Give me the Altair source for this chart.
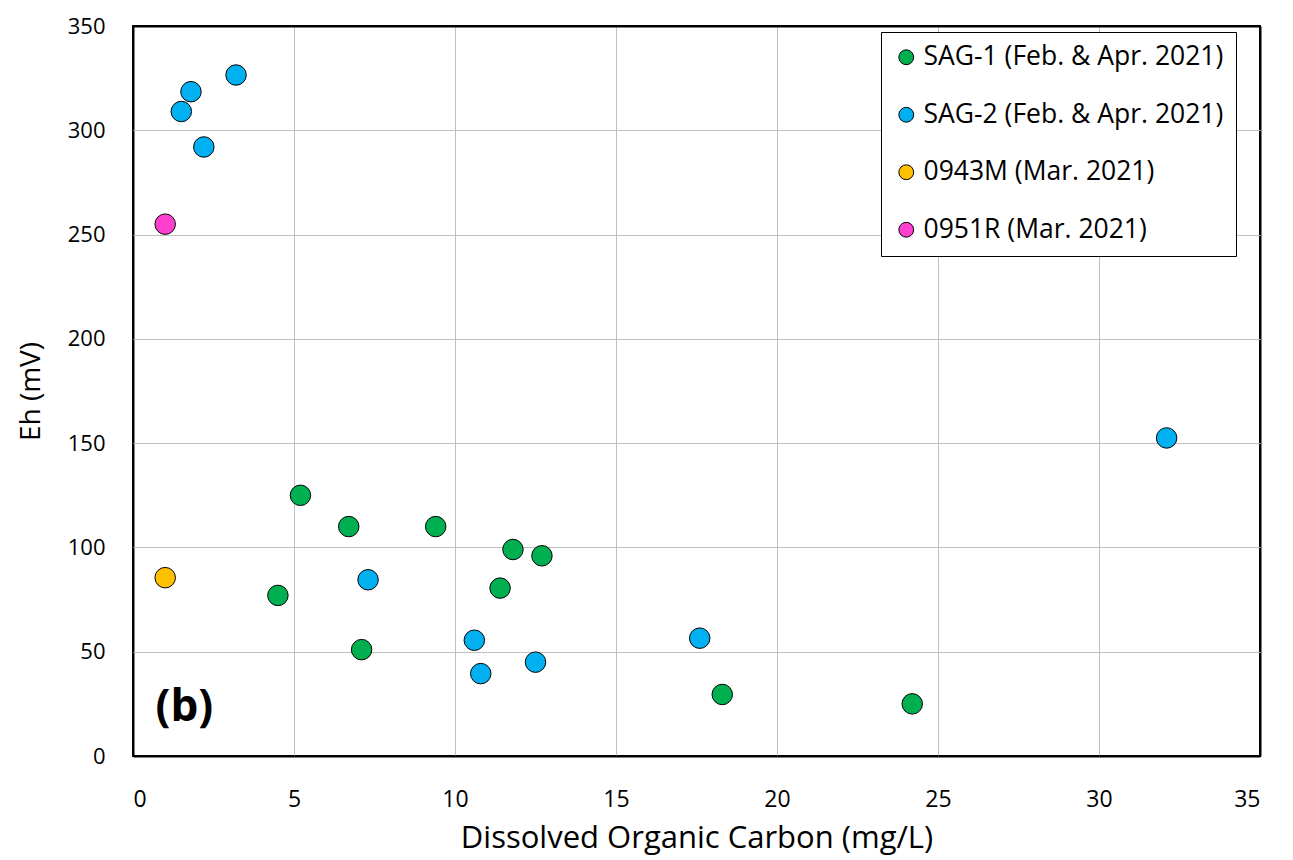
import altair as alt
import pandas as pd

series_names = ["SAG-1 (Feb. & Apr. 2021)", "SAG-2 (Feb. & Apr. 2021)",
                "0943M (Mar. 2021)", "0951R (Mar. 2021)"]
colors = ["#00B050", "#00B0F0", "#FFC000", "#FF3FCF"]

sag1_doc = [5.2, 6.7, 9.4, 4.5, 7.1, 11.8, 12.7, 11.4, 18.3, 24.2]
sag1_eh = [125, 110, 110, 77, 51, 99, 96, 80.5, 29.5, 25]

sag2_doc = [3.2, 1.8, 1.5, 2.2, 7.3, 10.6, 10.8, 12.5, 17.6, 32.1]
sag2_eh = [326.5, 318.5, 309, 292, 84.5, 55.5, 39.5, 45, 56.5, 152.5]

m0943_doc = [1.0]
m0943_eh = [85.5]

r0951_doc = [1.0]
r0951_eh = [255]

rows = []
for name, xs, ys in zip(series_names,
                        [sag1_doc, sag2_doc, m0943_doc, r0951_doc],
                        [sag1_eh, sag2_eh, m0943_eh, r0951_eh]):
    for xv, yv in zip(xs, ys):
        rows.append({"series": name, "doc": xv, "eh": yv})
df = pd.DataFrame(rows)

panel_label = pd.DataFrame({"doc": [0.7], "eh": [23], "label": ["(b)"]})

FONT = "Open Sans"

x_edge = {"condition": {"test": "datum.value == 0 || datum.value == 35",
                        "value": "black"}, "value": "#C0C0C0"}
x_edge_w = {"condition": {"test": "datum.value == 0 || datum.value == 35",
                          "value": 2}, "value": 1}
y_edge = {"condition": {"test": "datum.value == 0 || datum.value == 350",
                        "value": "black"}, "value": "#C0C0C0"}
y_edge_w = {"condition": {"test": "datum.value == 0 || datum.value == 350",
                          "value": 2}, "value": 1}

x_axis = alt.X("doc:Q", title="Dissolved Organic Carbon (mg/L)",
               scale=alt.Scale(domain=[0, 35], nice=False),
               axis=alt.Axis(values=list(range(0, 36, 5)), tickSize=0,
                             labelPadding=32, titlePadding=12,
                             labelFontSize=23, titleFontSize=31,
                             titleFontWeight="normal",
                             labelFont=FONT, titleFont=FONT,
                             gridColor=x_edge, gridWidth=x_edge_w,
                             domain=False))
y_axis = alt.Y("eh:Q", title="Eh (mV)",
               scale=alt.Scale(domain=[0, 350], nice=False),
               axis=alt.Axis(values=list(range(0, 351, 50)), tickSize=0,
                             labelPadding=28, titlePadding=22,
                             labelFontSize=22, titleFontSize=28,
                             titleFontWeight="normal",
                             labelFont=FONT, titleFont=FONT,
                             gridColor=y_edge, gridWidth=y_edge_w,
                             domain=False))

points = alt.Chart(df).mark_circle(size=420, opacity=1, stroke="black",
                                   strokeWidth=1).encode(
    x=x_axis,
    y=y_axis,
    color=alt.Color("series:N",
                    scale=alt.Scale(domain=series_names, range=colors),
                    legend=alt.Legend(title=None, orient="none",
                                      legendX=748, legendY=6,
                                      symbolType="circle", symbolSize=220,
                                      symbolStrokeColor="black",
                                      symbolStrokeWidth=1,
                                      symbolOpacity=1,
                                      labelFontSize=26.5, labelFont=FONT,
                                      labelColor="black",
                                      labelLimit=500,
                                      labelOffset=4,
                                      rowPadding=30.5,
                                      padding=12,
                                      strokeColor="black",
                                      fillColor="white")),
)

label = alt.Chart(panel_label).mark_text(
    fontSize=44, fontWeight="bold", align="left", baseline="middle",
    font=FONT, color="black").encode(
    x="doc:Q", y="eh:Q", text="label:N")

chart = (points + label).properties(
    width=1127, height=730,
    background="white",
    autosize=alt.AutoSizeParams(type="none"),
    padding={"left": 125, "top": 18, "right": 20, "bottom": 102},
).configure_view(stroke="black", strokeWidth=2).configure_axis(
    labelColor="black", titleColor="black",
)

chart.save("out.html", embed_options={"renderer": "svg", "actions": False})
